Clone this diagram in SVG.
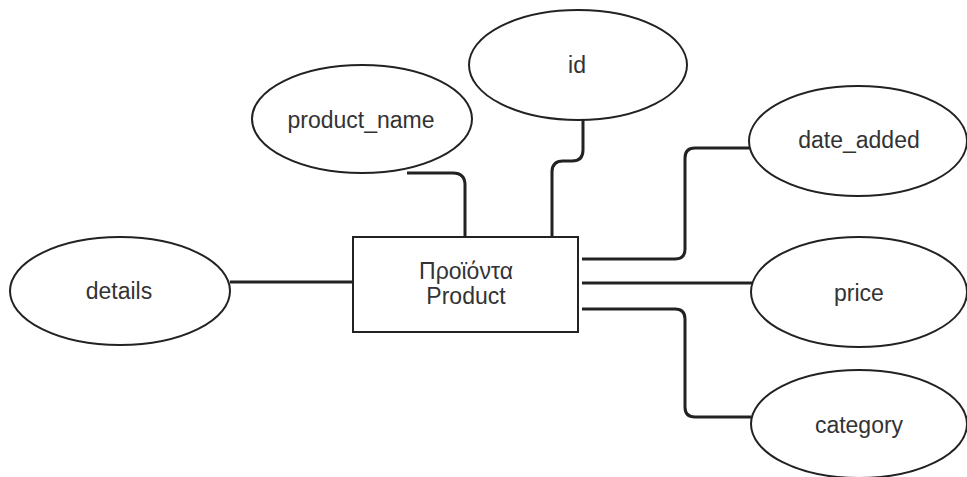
<svg xmlns="http://www.w3.org/2000/svg" width="967" height="477" viewBox="0 0 967 477">
<style>
.attr ellipse{fill:#fff;stroke:#222;stroke-width:2}
.ent rect{fill:#fff;stroke:#222;stroke-width:2}
text{font-family:"Liberation Sans",Arial,sans-serif;font-size:23px;fill:#333;text-anchor:middle;dominant-baseline:central}
#connectors path{fill:none;stroke:#222;stroke-width:3}
</style>
<rect width="967" height="477" fill="#fff"/>
<g id="connectors">
<path d="M230,282 H353"/>
<path d="M407,173 H453 Q465,173 465,185 V237"/>
<path d="M583,120 V150 Q583,161 572,161 H563 Q552,161 552,172 V237"/>
<path d="M582,259 H675 Q685,259 685,249 V158 Q685,148 695,148 H750"/>
<path d="M582,283 H752"/>
<path d="M582,309 H675 Q685,309 685,319 V407 Q685,417 695,417 H751"/>
</g>
<g id="product" class="ent">
<rect x="353" y="237" width="225" height="95"/>
<text x="466" y="271">Προϊόντα</text>
<text x="466" y="296">Product</text>
</g>
<g id="details" class="attr">
<ellipse cx="120" cy="291" rx="110" ry="54"/>
<text x="119" y="291">details</text>
</g>
<g id="product_name" class="attr">
<ellipse cx="362" cy="119" rx="110" ry="54"/>
<text x="361" y="120">product_name</text>
</g>
<g id="id" class="attr">
<ellipse cx="578" cy="65" rx="109" ry="55"/>
<text x="577" y="65">id</text>
</g>
<g id="date_added" class="attr">
<ellipse cx="858" cy="141" rx="109" ry="55"/>
<text x="859" y="140">date_added</text>
</g>
<g id="price" class="attr">
<ellipse cx="859" cy="292" rx="108" ry="55"/>
<text x="859" y="293">price</text>
</g>
<g id="category" class="attr">
<ellipse cx="859" cy="424" rx="108" ry="54"/>
<text x="859" y="425">category</text>
</g>
</svg>
